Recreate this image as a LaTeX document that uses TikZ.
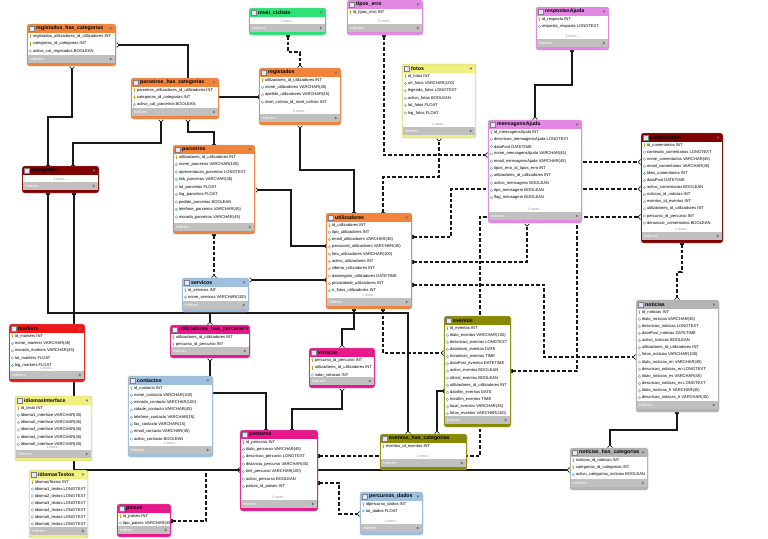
\documentclass[tikz,border=0pt]{standalone}
\usepackage{fontspec}
\setmainfont{Liberation Sans}
\usetikzlibrary{arrows.meta}
\definecolor{cOr}{RGB}{241,131,58}
\definecolor{cGr}{RGB}{44,228,118}
\definecolor{cVi}{RGB}{228,134,228}
\definecolor{cYe}{RGB}{240,240,128}
\definecolor{cDr}{RGB}{128,0,0}
\definecolor{cRe}{RGB}{238,24,24}
\definecolor{cMa}{RGB}{234,22,140}
\definecolor{cBl}{RGB}{158,192,222}
\definecolor{cOl}{RGB}{138,138,0}
\definecolor{cGy}{RGB}{180,180,180}
\definecolor{idxgray}{RGB}{192,192,192}
\definecolor{keyc}{RGB}{232,196,40}
\definecolor{diac}{RGB}{90,160,200}
\pgfdeclarelayer{bg}
\pgfsetlayers{bg,main}
\newcommand{\erdots}{.{}.{}.}
\newcommand{\erRowFont}{\fontsize{4.1}{4.5}\selectfont}
\newcommand{\erTitleFont}{\fontsize{5.2}{6}\selectfont\bfseries}
\newcommand{\erIdxFont}{\fontsize{3.8}{4}\selectfont}
\newcommand{\erMoreFont}{\fontsize{3.5}{4}\selectfont}
\newcommand{\errowk}[5]{%
  \fill[keyc] (#1+3.4,#2-0.9) circle (1.15pt);
  \draw[keyc!80!black, line width=0.5pt] (#1+3.4,#2-0.2) -- (#1+3.4,#2+2);
  \node[anchor=west,inner sep=0pt,font=\erRowFont] at (#1+5.8,#2) {#4};}
\newcommand{\errowa}[5]{%
  \draw[diac, line width=0.35pt] (#1+2.2,#2) -- (#1+3.4,#2-1.3) -- (#1+4.6,#2) -- (#1+3.4,#2+1.3) -- cycle;
  \node[anchor=west,inner sep=0pt,font=\erRowFont] at (#1+5.8,#2) {#4};}
\newcommand{\errowm}[5]{%
  \node[inner sep=0pt,font=\erMoreFont,text=black!45] at (#1+#3/2,#5) {#4 more\erdots};}
\newcommand{\ertable}[9]{%
  \fill[#6, rounded corners=2.5pt] (#2,#3) rectangle ++(#4,#5);
  \fill[white] (#2+0.7,#3+9) rectangle (#2+#4-0.7,#3+#5-11);
  \fill[idxgray] (#2+0.7,#3+#5-11) rectangle (#2+#4-0.7,#3+#5-3);
  \draw[black!30, line width=0.3pt, rounded corners=2.5pt] (#2,#3) rectangle ++(#4,#5);
  \node[inner sep=0pt, minimum width=#4pt, minimum height=#5pt, anchor=north west] (#1) at (#2,#3) {};
  \draw[black!50, fill=blue!10, line width=0.3pt] (#2+2.5,#3+2.2) rectangle (#2+7.2,#3+6.8);
  \node[anchor=west, inner sep=0pt, font=\erTitleFont] at (#2+9,#3+4.6) {#7};
  \fill[black!55] (#2+#4-6.6,#3+3.6) -- (#2+#4-3.6,#3+3.6) -- (#2+#4-5.1,#3+5.8) -- cycle;
  \node[anchor=west, inner sep=0pt, font=\erIdxFont, text=white] at (#2+3,#3+#5-7) {Indexes};
  \fill[black!55] (#2+#4-6.2,#3+#5-8.6) -- (#2+#4-6.2,#3+#5-5.4) -- (#2+#4-3.8,#3+#5-7) -- cycle;
  \pgfmathsetmacro{\ermy}{#3+#5-14}
  \foreach \kind/\txt [count=\i] in {#9} {
    \pgfmathsetmacro{\yy}{#3+12+(\i-1)*#8}
    \csname errow\kind\endcsname{#2}{\yy}{#4}{\txt}{\ermy}
  }%
}
\tikzset{
  rel/.style={line width=1.15pt, draw=black!90},
  idrel/.style={rel},
  nrel/.style={rel, dash pattern=on 3.6pt off 2pt},
  erend/.style={{Bar[width=4.5pt,line width=0.7pt]Bar[width=4.5pt,line width=0.7pt]}-{Straight Barb[reversed,width=5pt,length=2.4pt,line width=0.7pt]}}
}
\begin{document}
\catcode`\_=12
\begin{tikzpicture}[x=1pt,y=-1pt]
\useasboundingbox (0,0) rectangle (768,538);
\begin{pgfonlayer}{bg}
\fill[white] (0,0) rectangle (768,538);
\end{pgfonlayer}

\ertable{rhc}{27}{24}{89}{42}{cOr}{registados_has_categorias}{7.5}{k/registados_utilizadores_id_utilizadores INT, k/categorias_id_categorias INT, a/activo_cat_registados BOOLEAN}
\ertable{phc}{131}{78}{88}{41}{cOr}{parceiros_has_categorias}{7.3}{k/parceiros_utilizadores_id_utilizadores INT, k/categorias_id_categorias INT, a/activo_cat_parceiros BOOLEAN}
\ertable{nivel}{249}{8}{77}{27}{cGr}{nivel_ciclista}{7.3}{m/2}
\ertable{tipos}{347}{0}{76}{35}{cVi}{tipos_erro}{7.5}{k/id_tipos_erro INT, m/2}
\ertable{resp}{536}{7}{73}{43}{cVi}{respostasAjuda}{7.5}{k/id_resposta INT, a/resposta_resposta LONGTEXT, m/2}
\ertable{reg}{259}{68}{82}{57}{cOr}{registados}{7.4}{k/utilizadores_id_utilizadores INT, a/nome_utilizadores VARCHAR(45), a/apelido_utilizadores VARCHAR(45), a/nivel_ciclista_id_nivel_ciclista INT, m/2}
\ertable{fotos}{402}{64}{74}{74}{cYe}{fotos}{7.4}{k/id_fotos INT, a/url_fotos VARCHAR(100), a/legenda_fotos LONGTEXT, a/activo_fotos BOOLEAN, a/lat_fotos FLOAT, a/lng_fotos FLOAT, m/2}
\ertable{msg}{488}{120}{94}{103}{cVi}{mensagensAjuda}{7.3}{k/id_mensagensAjuda INT, a/descricao_mensagensAjuda LONGTEXT, a/dataPost DATETIME, a/nome_mensagensAjuda VARCHAR(45), a/email_mensagensAjuda VARCHAR(45), a/tipos_erro_id_tipos_erro INT, a/utilizadores_id_utilizadores INT, a/activo_mensagens BOOLEAN, a/tipo_mensagem BOOLEAN, a/flag_mensagem BOOLEAN, m/2}
\ertable{coment}{641}{133}{82}{110}{cDr}{comentarios}{7.1}{k/id_comentarios INT, a/conteudo_comentarios LONGTEXT, a/nome_comentarios VARCHAR(45), a/email_comentarios VARCHAR(45), a/likes_comentarios INT, a/dataPost DATETIME, a/activo_comentarios BOOLEAN, a/noticias_id_noticias INT, a/eventos_id_eventos INT, a/utilizadores_id_utilizadores INT, a/percurso_id_percurso INT, a/denunciar_comentarios BOOLEAN, m/1}
\ertable{cat}{22}{166}{77}{27}{cDr}{categorias}{7.3}{m/2}
\ertable{parc}{173}{145}{82}{89}{cOr}{parceiros}{7.5}{k/utilizadores_id_utilizadores INT, a/nome_parceiros VARCHAR(100), a/apresentacao_parceiros LONGTEXT, a/link_parceiros VARCHAR(45), a/lat_parceiros FLOAT, a/lng_parceiros FLOAT, a/pedido_parceiros BOOLEAN, a/telefone_parceiros VARCHAR(45), a/morada_parceiros VARCHAR(45)}
\ertable{util}{326}{213}{86}{96}{cOr}{utilizadores}{7.3}{k/id_utilizadores INT, a/tipo_utilizadores INT, a/email_utilizadores VARCHAR(45), a/password_utilizadores VARCHAR(45), a/foto_utilizadores VARCHAR(100), a/activo_utilizadores INT, a/ciberia_utilizadores INT, a/dataregisto_utilizadores DATETIME, a/privacidade_utilizadores INT, a/n_fotos_utilizadores INT, m/1}
\ertable{serv}{182}{278}{67}{34}{cBl}{servicos}{7.3}{k/id_servicos INT, a/nome_servicos VARCHAR(100)}
\ertable{mark}{9}{324}{76}{58}{cRe}{markers}{7.35}{k/id_markers INT, a/nome_markers VARCHAR(45), a/morada_markers VARCHAR(45), a/lat_markers FLOAT, a/lng_markers FLOAT, m/1}
\ertable{uhp}{170}{325}{80}{33}{cMa}{utilizadores_has_percursos}{7.2}{k/utilizadores_id_utilizadores INT, k/percurso_id_percurso INT}
\ertable{idi}{15}{396}{77}{65}{cYe}{idiomasInterface}{7.3}{k/id_texto INT, a/idioma1_interface VARCHAR(45), a/idioma2_interface VARCHAR(45), a/idioma3_interface VARCHAR(45), a/idioma4_interface VARCHAR(45), a/idioma5_interface VARCHAR(45), m/1}
\ertable{cont}{128}{376}{85}{81}{cBl}{contactos}{7.3}{k/id_contacto INT, a/nome_contacto VARCHAR(100), a/morada_contacto VARCHAR(100), a/cidade_contacto VARCHAR(45), a/telefone_contacto VARCHAR(15), a/fax_contacto VARCHAR(15), a/email_contacto VARCHAR(45), a/activo_contacto BOOLEAN, m/1}
\ertable{idt}{29}{470}{59}{68}{cYe}{idiomasTextos}{7}{k/idiomasTextos INT, a/idioma1_textos LONGTEXT, a/idioma2_textos LONGTEXT, a/idioma3_textos LONGTEXT, a/idioma4_textos LONGTEXT, a/idioma5_textos LONGTEXT, a/idioma6_textos LONGTEXT}
\ertable{paises}{117}{504}{54}{33}{cMa}{paises}{7}{k/id_paises INT, a/tipo_paises VARCHAR(45)}
\ertable{perc}{240}{430}{78}{81}{cMa}{percurso}{7.4}{k/id_percurso INT, a/titulo_percurso VARCHAR(45), a/descricao_percurso LONGTEXT, a/distancia_percurso VARCHAR(45), a/kml_percurso VARCHAR(100), a/activo_percurso BOOLEAN, a/paises_id_paises INT, m/2}
\ertable{vot}{309}{348}{66}{40}{cMa}{votacao}{7.5}{k/percurso_id_percurso INT, k/utilizadores_id_utilizadores INT, a/valor_votacao INT}
\ertable{evt}{444}{316}{67}{111}{cOl}{eventos}{7.15}{k/id_eventos INT, a/titulo_eventos VARCHAR(100), a/descricao_eventos LONGTEXT, a/datainicio_eventos DATE, a/horainicio_eventos TIME, a/dataPost_eventos DATETIME, a/activo_eventos BOOLEAN, a/oficial_eventos BOOLEAN, a/utilizadores_id_utilizadores INT, a/datafim_eventos DATE, a/horafim_eventos TIME, a/local_eventos VARCHAR(45), a/fotos_eventos VARCHAR(100)}
\ertable{ehc}{380}{434}{87}{36}{cOl}{eventos_has_categorias}{7.3}{k/eventos_id_eventos INT, m/2}
\ertable{pd}{360}{492}{63}{43}{cBl}{percursos_dados}{7}{k/idpercurso_dados INT, a/lat_dados FLOAT, m/2}
\ertable{not}{636}{300}{83}{112}{cGy}{noticias}{7.15}{k/id_noticias INT, a/titulo_noticias VARCHAR(45), a/descricao_noticias LONGTEXT, a/dataPost_noticias DATETIME, a/activo_noticias BOOLEAN, a/utilizadores_id_utilizadores INT, a/fotos_noticias VARCHAR(100), a/titulo_noticias_en VARCHAR(45), a/descricao_noticias_en LONGTEXT, a/titulo_noticias_es VARCHAR(45), a/descricao_noticias_es LONGTEXT, a/titulo_noticias_fr VARCHAR(45), a/descricao_noticias_fr VARCHAR(45)}
\ertable{nhc}{570}{448}{78}{42}{cGy}{noticias_has_categorias}{7.3}{k/noticias_id_noticias INT, k/categorias_id_categorias INT, a/activo_categorias_noticias BOOLEAN}

\begin{pgfonlayer}{bg}
\draw[idrel,erend] (48,0 |- cat.north) -- (48,117) -| (72,0 |- rhc.south);
\draw[idrel,erend] (73,0 |- cat.north) -- (73,143) -| (161,0 |- phc.south);
\draw[idrel,erend] (reg.west |- 0,97) -- (188,97) -- (188,45) -- (rhc.east |- 0,45);
\draw[idrel,erend] (214,0 |- parc.north) -- (214,132) -| (188,0 |- phc.south);
\draw[nrel,erend] (288,0 |- nivel.south) -- (288,52) -| (300,0 |- reg.north);
\draw[nrel,erend] (384,0 |- tipos.south) |- (msg.west |- 0,155);
\draw[nrel,erend] (383,0 |- util.north) -- (383,177) -| (439,0 |- fotos.south);
\draw[idrel,erend] (572,0 |- resp.south) -- (572,85) -| (535,0 |- msg.north);
\draw[idrel,erend] (util.west |- 0,246) -| (291,190) -- (parc.east |- 0,190);
\draw[idrel,erend] (354,0 |- util.north) -- (354,170) -| (300,0 |- reg.south);
\draw[nrel,erend] (214,0 |- parc.south) -- (214,0 |- serv.north);
\draw[idrel,erend] (util.west |- 0,280) -- (serv.east |- 0,280);
\draw[idrel,erend] (48,0 |- cat.south) -- (48,313) -| (408,0 |- ehc.north);
\draw[idrel,erend] (354,0 |- util.south) -- (354,313) -| (210,0 |- uhp.north);
\draw[idrel,erend] (354,0 |- util.south) -- (354,329) -| (342,0 |- vot.north);
\draw[idrel,erend] (74,0 |- cat.south) -- (74,470) -- (nhc.west |- 0,470);
\draw[idrel,erend] (266,0 |- perc.north) -- (266,393) -| (210,0 |- uhp.south);
\draw[idrel,erend] (292,0 |- perc.north) -- (292,409) -| (342,0 |- vot.south);
\draw[nrel,erend] (paises.east |- 0,521) -| (206,470) -- (perc.west |- 0,470);
\draw[nrel,erend] (perc.east |- 0,456) -| (480,217) -- (coment.west |- 0,217);
\draw[nrel,erend] (perc.east |- 0,483) -- (339,483) |- (pd.west |- 0,514);
\draw[idrel,erend] (evt.west |- 0,391) -| (437,0 |- ehc.north);
\draw[idrel,erend] (677,0 |- not.south) -- (677,430) -| (610,0 |- nhc.north);
\draw[nrel,erend] (682,0 |- coment.south) -- (682,272) -| (677,0 |- not.north);
\draw[nrel,erend] (util.east |- 0,285) -| (544,357) -- (not.west |- 0,357);
\draw[nrel,erend] (util.east |- 0,262) -| (527,0 |- msg.south);
\draw[nrel,erend] (util.east |- 0,237) -| (451,189) -- (coment.west |- 0,189);
\draw[nrel,erend] (evt.east |- 0,371) -| (577,162) -- (coment.west |- 0,162);
\draw[nrel,erend] (383,0 |- util.south) |- (evt.west |- 0,353);
\end{pgfonlayer}
\end{tikzpicture}
\end{document}
